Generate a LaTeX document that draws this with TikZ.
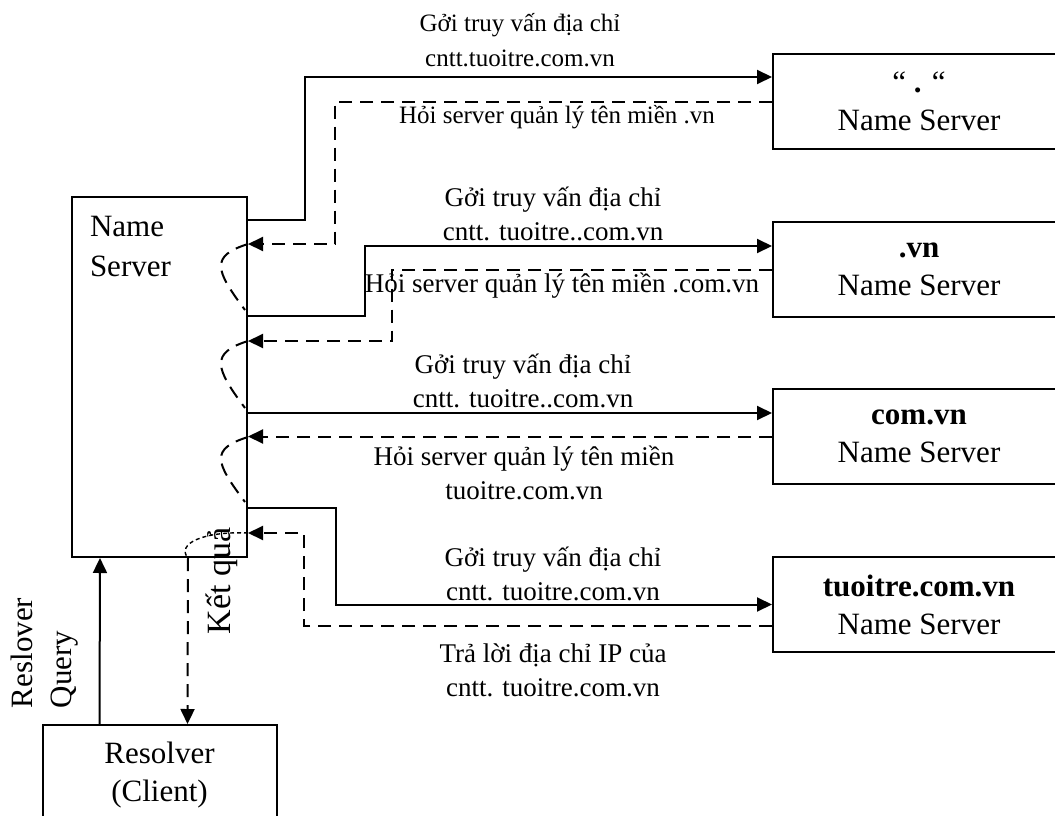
\documentclass[tikz,border=0pt]{standalone}
\usepackage{fontspec}
\setmainfont{Liberation Serif}
\usetikzlibrary{arrows.meta, positioning}

\begin{document}
\begin{tikzpicture}[x=1pt, y=-1pt, line width=2pt,
    srv/.style={draw, anchor=north west, minimum width=292pt, minimum height=95pt, align=center, font=\fontsize{31}{38}\selectfont},
    lbl/.style={align=center, inner sep=0pt, font=\fontsize{27}{34}\selectfont},
    toplbl/.style={lbl, font=\fontsize{25}{35}\selectfont},
    ask/.style={-{Triangle[length=15pt, width=14pt]}},
    ans/.style={-{Triangle[length=15pt, width=14pt]}, dash pattern=on 13pt off 8pt},
    wait/.style={dash pattern=on 13pt off 8pt}]
\useasboundingbox (0,0) rectangle (1055,816);

\node[draw, anchor=north west, minimum width=175pt, minimum height=360pt] (ns) at (71,196) {};
\node[anchor=north west, align=left, inner sep=0pt, font=\fontsize{31}{40}\selectfont] (nstitle) at (89,215) {Name\\Server};
\node[srv] (root) at (772,53) {“ \textbf{.} “\\Name Server};
\node[srv, below=71pt of root] (vn) {\textbf{.vn}\\Name Server};
\node[srv, below=70pt of vn] (comvn) {\textbf{com.vn}\\Name Server};
\node[srv, below=71pt of comvn] (tt) {\textbf{tuoitre.com.vn}\\Name Server};
\node[srv, minimum width=234pt, minimum height=100pt, below=166pt of ns] (res) {Resolver\\(Client)};

% hoi / tra loi
\draw[ask] ([yshift=-24pt]ns.north east) -- ++(57,0) |- ([yshift=-24pt]root.north west);
\draw[ans] (root.west) -- ++(-437,0) |- ([yshift=-48pt]ns.north east);
\draw[ask] ([yshift=-120pt]ns.north east) -- ++(117,0) |- ([yshift=-25pt]vn.north west);
\draw[ans] (vn.west) -- ++(-380,0) |- ([yshift=-145pt]ns.north east);
\draw[ask] ([yshift=-217pt]ns.north east) coordinate (s3) -- (s3 -| comvn.west);
\draw[ans] (comvn.west) -- (comvn.west -| ns.east);
\draw[ask] ([yshift=-312pt]ns.north east) -- ++(88,0) |- (tt.west);
\draw[ans] ([yshift=-70pt]tt.north west) -- ++(-468,0) |- ([yshift=-337pt]ns.north east);

\draw[wait] ([yshift=-48pt]ns.north east) .. controls +(-38,12) and +(-30,-40) .. ([xshift=-3pt, yshift=-114pt]ns.north east);
\draw[wait] ([yshift=-145pt]ns.north east) .. controls +(-38,12) and +(-30,-40) .. ([xshift=-3pt, yshift=-212pt]ns.north east);
\draw[wait] ([yshift=-241pt]ns.north east) .. controls +(-38,12) and +(-30,-40) .. ([xshift=-3pt, yshift=-306pt]ns.north east);
\draw[line width=1.4pt, dash pattern=on 4pt off 3pt] ([yshift=-337pt]ns.north east) .. controls +(-45,-2) and +(-12,-14) .. ([xshift=117pt]ns.south west);

\draw[ask] ([xshift=58pt]res.north west) -- ([xshift=29pt]ns.south west);
\draw[ans] ([xshift=117pt]ns.south west) -- ([xshift=146pt]res.north west);

\node[toplbl] (q1) at (520,40) {Gởi truy vấn địa chỉ\\cntt.tuoitre.com.vn};
\node[toplbl, anchor=base] (r1) at (557,123) {Hỏi server quản lý tên miền .vn};
\node[lbl] (q2) at (553,214) {Gởi truy vấn địa chỉ\\cntt. tuoitre..com.vn};
\node[lbl, anchor=base] (r2) at (562,292) {Hỏi server quản lý tên miền .com.vn};
\node[lbl] (q3) at (523,381) {Gởi truy vấn địa chỉ\\cntt. tuoitre..com.vn};
\node[lbl] (r3) at (524,473) {Hỏi server quản lý tên miền\\tuoitre.com.vn};
\node[lbl] (q4) at (553,574) {Gởi truy vấn địa chỉ\\cntt. tuoitre.com.vn};
\node[lbl] (r4) at (553,670) {Trả lời địa chỉ IP của\\cntt. tuoitre.com.vn};
\node[rotate=90, anchor=base, font=\fontsize{34}{40}\selectfont] (kq) at (230,581) {Kết quả};
\node[rotate=90, anchor=south west, align=left, inner sep=0pt, font=\fontsize{31}{39}\selectfont] (rq) at (79,709) {Reslover\\Query};
\end{tikzpicture}
\end{document}
